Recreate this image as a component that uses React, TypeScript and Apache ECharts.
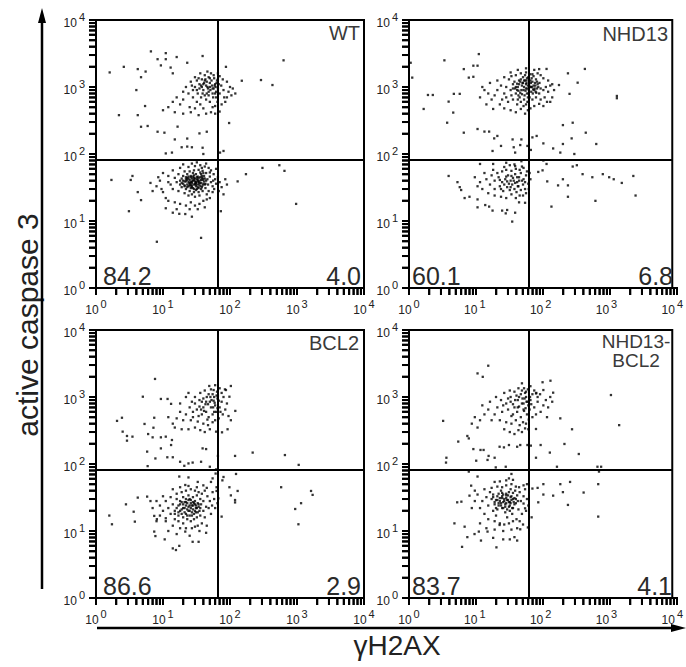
import React, { useEffect, useRef } from 'react';
import * as echarts from 'echarts';

// ---------- data ----------
const PANEL_NAMES = ['WT', 'NHD13', 'BCL2', 'NHD13-\nBCL2'];
const LOWER_LEFT_PCT = ['84.2', '60.1', '86.6', '83.7'];
const LOWER_RIGHT_PCT = ['4.0', '6.8', '2.9', '4.1'];
const GATE_X = 65;
const GATE_Y = 82;
const AXIS_MIN = 1;
const AXIS_MAX = 10000;
const TICK_VALUES = [
  1, 2, 3, 4, 5, 6, 7, 8, 9,
  10, 20, 30, 40, 50, 60, 70, 80, 90,
  100, 200, 300, 400, 500, 600, 700, 800, 900,
  1000, 2000, 3000, 4000, 5000, 6000, 7000, 8000, 9000, 10000,
];
const X_TITLE = 'γH2AX';
const Y_TITLE = 'active caspase 3';

const WT_SPARSE = [
  [6.6, 3400], [11, 3200], [16, 2800], [39, 2900], [8.3, 2600], [11, 2600], [23, 2300], [2.6, 2000],
  [4.2, 1850], [5.5, 1700], [1.6, 1650], [9.3, 2100], [13, 1950], [4.7, 1400], [14, 1600], [87, 2000],
  [630, 2500], [290, 1270], [430, 1070], [150, 1240], [4, 900], [5.4, 520], [2.2, 380], [4.2, 380],
  [4.7, 255], [5.9, 262], [8.3, 215], [10.5, 208], [16.5, 256], [15, 165], [23, 170], [35, 203],
  [45, 215], [97, 290], [19, 126], [23, 129], [27, 126], [39, 124], [11, 102], [13.6, 105], [71, 105],
  [80, 111], [40, 100], [305, 62], [545, 68], [650, 56], [173, 50], [130, 39], [1.7, 41], [3.3, 41],
  [3.5, 47], [4.2, 27], [4.7, 20.5], [3.1, 14], [8.1, 4.9], [37, 5.6], [970, 18], [73, 14], [27, 11.6],
  [21.5, 12.7], [17.5, 12.8], [14, 13.3], [11, 15.5],
];
const WT_UPPER = [
  [30, 1000], [35, 1100], [40, 900], [45, 1200], [50, 1000], [55, 800], [60, 1100], [38, 1300],
  [42, 1500], [48, 1400], [52, 1600], [33, 800], [37, 700], [44, 650], [50, 600], [56, 700], [62, 850],
  [28, 900], [26, 1200], [30, 1400], [36, 1600], [58, 1350], [64, 1250], [66, 950], [70, 800],
  [74, 1050], [80, 900], [90, 700], [95, 850], [100, 1000], [85, 600], [75, 550], [65, 600], [45, 800],
  [40, 1100], [53, 1250], [47, 950], [42, 750], [36, 550], [32, 600], [28, 700], [24, 800], [22, 1000],
  [20, 650], [18, 550], [25, 500], [30, 480], [40, 480], [55, 500], [60, 520], [70, 1450], [78, 1300],
  [66, 1600], [46, 1700], [32, 1250], [20, 850], [16, 700], [14, 600], [12, 500], [10, 450], [15, 420],
  [20, 400], [26, 420], [34, 380], [44, 400], [52, 420], [60, 400], [70, 430], [82, 700], [110, 950],
  [105, 750], [120, 800], [90, 1200], [38, 1000], [57, 950], [62, 700], [50, 1150], [44, 1050],
  [35, 950], [27, 1050], [54, 1050], [48, 850], [61, 1000], [43, 1300], [57, 1500], [34, 1350],
  [32, 900], [37, 1050], [41, 1150], [46, 1000], [51, 900], [59, 1050], [63, 1150], [68, 1100],
  [39, 800], [48, 750], [55, 950], [42, 1250], [50, 1350], [60, 800], [66, 1300],
];
const WT_LOWER = [
  [18, 40], [20, 36], [22, 42], [24, 38], [26, 34], [28, 40], [30, 36], [32, 42], [34, 38], [36, 33],
  [38, 44], [40, 36], [22, 30], [25, 28], [28, 31], [31, 29], [34, 27], [20, 47], [23, 50], [26, 45],
  [29, 48], [33, 46], [37, 50], [41, 47], [44, 40], [47, 35], [19, 32], [16, 38], [15, 44], [17, 28],
  [21, 26], [24, 24], [27, 25], [30, 23], [35, 24], [39, 28], [43, 31], [46, 42], [50, 46], [52, 38],
  [55, 33], [48, 28], [45, 25], [13, 35], [14, 30], [25, 55], [29, 57], [34, 58], [39, 56], [21, 55],
  [17, 50], [31, 33], [27, 37], [23, 35], [35, 40], [29, 44], [25, 41], [33, 35], [37, 37], [42, 43],
  [19, 43], [26, 31], [32, 30], [38, 32], [24, 46], [28, 52], [36, 53], [40, 52], [44, 52], [31, 50],
  [22, 39], [27, 43], [33, 39], [26, 38], [30, 39], [29, 35], [24, 33], [36, 45], [20, 40], [41, 39],
  [9, 40], [8, 33], [10, 27], [11, 22], [12, 47], [10, 52], [8.5, 45], [12, 20], [15, 19], [18, 18],
  [22, 17], [26, 19], [30, 17], [35, 18], [40, 20], [45, 21], [50, 22], [55, 27], [58, 30], [60, 42],
  [57, 50], [52, 57], [48, 62], [42, 65], [36, 68], [30, 66], [24, 64], [18, 62], [14, 57], [20, 70],
  [27, 72], [32, 75], [44, 72], [62, 60], [66, 45], [70, 38], [75, 32], [80, 25], [68, 28], [85, 42],
  [90, 35], [7, 28], [6.5, 37], [16, 15], [25, 15], [33, 15], [42, 16], [38, 62], [50, 53], [56, 40],
  [12, 38], [62, 36], [9.5, 30], [27, 34], [31, 38], [21, 33], [25, 36], [29, 27], [34, 31], [23, 44],
  [39, 41], [18, 35], [43, 36],
  [19, 37], [21, 39], [23, 41], [25, 37], [27, 39], [29, 41], [31, 37], [33, 41], [35, 37], [37, 41],
  [21, 34], [23, 32], [25, 34], [27, 32], [29, 30], [31, 35], [33, 32], [35, 35], [37, 30], [39, 34],
  [22, 45], [24, 43], [26, 47], [28, 46], [30, 43], [32, 45], [34, 44], [38, 47], [40, 43], [42, 35],
];

const NHD13_SPARSE = [
  [1.06, 2300], [1.12, 1380], [3.45, 2500], [11.5, 3100], [6.8, 1850], [9.5, 2080], [11, 2080],
  [8.1, 1380], [9.5, 1420], [1.94, 760], [2.3, 760], [1.67, 470], [4, 605], [4.8, 790], [5.9, 790],
  [4.7, 415], [3.8, 293], [6.8, 208], [11, 236], [14, 216], [16.5, 216], [19.7, 171], [22, 186],
  [37.5, 165], [51, 165], [63, 132], [75, 177], [87, 186], [39, 126], [41, 105], [25, 132], [18.6, 111],
  [49, 136], [71, 115], [123, 1860], [260, 1600], [470, 1860], [365, 1160], [190, 1070], [275, 790],
  [1440, 735], [1440, 680], [307, 293], [218, 270], [485, 208], [296, 171], [700, 141], [218, 141],
  [199, 105], [325, 100], [155, 121], [110, 144], [12, 71], [19, 71], [30, 74], [41, 66], [51, 78],
  [110, 80], [123, 71], [107, 57], [92, 54], [307, 65], [355, 68], [434, 50], [610, 45], [880, 50],
  [1100, 45], [1290, 42], [1710, 37], [2560, 47], [2770, 24], [680, 20], [260, 23], [260, 34], [218, 42],
  [184, 34], [146, 16.4], [126, 39], [4, 47], [5.45, 38], [5.9, 32], [6.2, 29], [7, 22], [8.3, 23],
  [11, 21], [11, 16], [14.4, 17.3], [16.5, 16.4], [18.6, 14.3], [26, 14.3], [29.5, 13], [31, 14.6],
  [41, 13.3], [37, 9.8], [47, 19], [58, 18.7],
];
const NHD13_UPPER = [
  [40, 1200], [45, 1000], [50, 1300], [55, 900], [60, 1100], [65, 1400], [70, 1000], [75, 1200],
  [80, 900], [90, 1100], [100, 950], [35, 900], [38, 1100], [42, 800], [48, 700], [53, 1150], [58, 1500],
  [62, 800], [68, 700], [72, 850], [78, 1050], [85, 1300], [95, 800], [110, 900], [120, 1000], [30, 1000],
  [33, 1300], [28, 800], [26, 650], [32, 600], [38, 650], [44, 550], [50, 600], [56, 650], [60, 550],
  [66, 600], [75, 650], [85, 700], [100, 650], [115, 700], [130, 850], [140, 1050], [130, 1250],
  [110, 1350], [100, 1500], [90, 1600], [75, 1550], [60, 1650], [50, 1600], [42, 1500], [36, 1450],
  [25, 1050], [22, 900], [20, 750], [18, 650], [24, 550], [28, 480], [35, 450], [42, 420], [50, 470],
  [58, 400], [64, 450], [70, 480], [80, 520], [95, 560], [110, 520], [125, 600], [150, 700], [160, 900],
  [150, 1100], [140, 600], [46, 880], [52, 1050], [57, 750], [63, 950], [67, 1200], [73, 1350],
  [82, 1150], [88, 950], [47, 1250], [41, 950], [36, 750], [54, 1400], [61, 1250], [69, 1550],
  [78, 1450], [86, 820], [92, 1000], [55, 520], [45, 650], [30, 700], [16, 800], [14, 900], [15, 550],
  [19, 470], [12, 700], [13, 1000], [17, 1150], [22, 1250], [28, 1400], [35, 1650], [45, 1800],
  [60, 1900], [80, 1800], [95, 1850], [64, 1050], [59, 880], [71, 1150], [56, 1250], [66, 800],
  [49, 820], [44, 1120], [77, 920], [83, 1050], [62, 1350],
  [42, 1000], [47, 1100], [51, 900], [56, 1000], [61, 1150], [66, 900], [71, 1000], [76, 800],
  [81, 950], [58, 1250], [52, 780], [64, 700], [44, 900], [49, 1200], [70, 1250], [84, 850], [96, 1150],
  [38, 950], [67, 1050], [54, 1150], [60, 950], [74, 1000], [88, 1200], [46, 750], [63, 600],
];
const NHD13_LOWER = [
  [20, 40], [23, 45], [26, 38], [29, 42], [32, 48], [35, 40], [38, 44], [41, 50], [44, 38], [47, 45],
  [50, 52], [55, 42], [60, 48], [17, 35], [20, 30], [24, 33], [27, 28], [31, 32], [34, 29], [37, 35],
  [40, 30], [43, 27], [46, 33], [50, 29], [54, 35], [58, 30], [15, 42], [18, 48], [22, 52], [26, 55],
  [30, 58], [36, 56], [42, 60], [48, 58], [55, 62], [28, 64], [34, 68], [40, 70], [12, 38], [13, 30],
  [16, 26], [20, 24], [25, 23], [30, 22], [36, 25], [42, 22], [48, 24], [54, 24], [60, 26], [65, 36],
  [62, 55], [52, 65], [45, 33], [39, 40], [33, 36], [28, 35], [24, 41], [30, 46], [36, 47], [44, 45],
  [25, 30], [35, 32], [52, 40], [58, 38], [10, 45], [11, 33], [14, 52], [19, 58], [66, 30], [70, 42],
  [68, 52], [41, 37], [31, 39], [47, 40],
];

const BCL2_SPARSE = [
  [7.6, 1860], [5, 1010], [9.3, 935], [11.7, 935], [13.2, 790], [2.06, 440], [2.44, 490], [2.5, 304],
  [2.9, 262], [3.5, 256], [2.9, 223], [5.3, 396], [7.4, 490], [7.2, 348], [6, 280], [7, 250], [9.3, 250],
  [11, 256], [13.6, 228], [13.2, 192], [9.3, 171], [5.8, 153], [7.7, 121], [5.9, 93], [11.6, 126],
  [14, 126], [20.8, 94], [18, 108], [24, 102], [27.7, 105], [37, 108], [50, 91], [39, 171], [44, 167],
  [66, 132], [119, 132], [218, 148], [660, 136], [1060, 97], [103, 1460], [87, 1270], [98, 1010],
  [120, 620], [103, 450], [92, 330], [76, 297], [49, 1460], [57, 1270], [62, 304],
  [1.58, 17], [1.73, 12.6], [2.8, 25], [3.65, 19.4], [3.8, 13.8], [4.2, 31.5], [5.8, 32.6], [6.5, 28],
  [7.4, 16.8], [8.1, 15], [11, 15.5], [7.4, 9.8], [7.7, 8.4], [10.6, 7.5], [14, 5.5], [15.6, 5.2],
  [17.5, 6], [27.7, 6.9], [34, 6.9], [44, 9.4], [30, 11.6], [21.5, 9.8], [75, 16.4], [67, 30.7],
  [63, 39.6], [63, 45], [77, 57], [80, 64], [98, 45], [103, 34], [119, 29], [119, 26.7], [130, 39.6],
  [123, 71], [580, 45], [1620, 39.6], [1710, 34.6], [1150, 26], [940, 21.3], [1050, 12.6], [17.5, 65],
  [24, 63], [21.5, 48.6], [33, 54], [52, 54], [55, 61], [61, 72], [62, 83],
];
const BCL2_UPPER = [
  [30, 800], [35, 900], [40, 700], [45, 1000], [50, 850], [55, 1100], [60, 750], [65, 950], [28, 600],
  [32, 650], [38, 550], [44, 600], [48, 500], [55, 550], [62, 600], [70, 700], [75, 850], [80, 1000],
  [25, 700], [22, 550], [20, 450], [26, 450], [33, 430], [40, 400], [47, 380], [55, 420], [60, 450],
  [68, 480], [78, 550], [85, 650], [90, 800], [95, 520], [18, 600], [16, 480], [14, 400], [12, 500],
  [15, 350], [19, 330], [24, 330], [30, 350], [36, 320], [42, 300], [50, 330], [30, 1000], [36, 1150],
  [42, 1250], [48, 1100], [52, 1300], [58, 1000], [64, 1200], [70, 1350], [75, 1150], [84, 1300],
  [38, 850], [43, 780], [52, 700], [57, 880], [27, 850], [22, 1000], [58, 600], [34, 520], [46, 460],
  [28, 500], [40, 950], [35, 720], [65, 680], [72, 600], [18, 800], [24, 1150], [60, 1500], [66, 1050],
  [41, 620], [47, 780], [53, 900], [59, 820], [63, 1050], [68, 880], [44, 850], [51, 1000], [37, 650],
  [56, 700],
];
const BCL2_LOWER = [
  [15, 20], [17, 24], [19, 18], [21, 22], [23, 26], [25, 20], [27, 24], [29, 18], [31, 22], [33, 26],
  [35, 20], [18, 28], [20, 32], [22, 30], [24, 34], [26, 29], [28, 32], [30, 28], [32, 34], [36, 30],
  [40, 28], [14, 25], [13, 18], [15, 15], [17, 14], [20, 13], [23, 15], [26, 14], [29, 15], [32, 16],
  [36, 17], [40, 20], [44, 23], [12, 22], [10, 20], [11, 28], [13, 32], [16, 36], [19, 38], [22, 40],
  [26, 42], [30, 40], [34, 38], [38, 36], [42, 40], [46, 33], [50, 28], [48, 22], [42, 16], [38, 13],
  [33, 12], [27, 11], [22, 11], [18, 11], [14, 12], [11, 14], [9, 17], [9, 24], [8, 28], [10, 33],
  [14, 42], [18, 45], [24, 47], [32, 45], [40, 48], [45, 44], [55, 38], [58, 30], [54, 24], [22, 18],
  [24, 23], [26, 26], [28, 21], [19, 21], [21, 27], [17, 19], [30, 25], [34, 23], [37, 25], [20, 16],
  [25, 17], [16, 30], [12, 10], [16, 9], [25, 8.5], [35, 10], [45, 12], [52, 18], [60, 22], [65, 26],
  [7, 22], [8, 14], [23, 21], [27, 19], [20, 25], [25, 30], [31, 19],
  [16, 22], [18, 20], [20, 22], [22, 24], [24, 20], [26, 22], [28, 24], [30, 20], [32, 22], [34, 25],
  [18, 25], [21, 19], [23, 17], [25, 24], [27, 17], [29, 26], [31, 24], [33, 19], [36, 22], [19, 27],
  [22, 27], [24, 29], [28, 27], [17, 17], [15, 18],
];

const NB_SPARSE = [
  [16, 2930], [11, 2250], [13.2, 2000], [3.3, 440], [5.6, 216], [7.7, 262], [8.1, 241], [9.5, 167],
  [10.5, 112], [3.7, 124], [3.65, 105], [15.6, 115], [16.2, 132], [20, 124], [12.2, 162], [13.6, 162],
  [20.8, 89], [29.5, 91], [23.8, 181], [27.7, 177], [33, 192], [44, 181], [49, 192], [63, 192],
  [71, 188], [85, 333], [85, 124], [100, 192], [138, 148], [177, 91], [230, 199], [300, 330], [380, 141],
  [199, 480], [1170, 1070], [1560, 380], [730, 91], [770, 77], [830, 91], [107, 1660], [141, 1750],
  [155, 1160], [110, 1270], [98, 1100], [85, 1130], [52, 1600], [56, 1350],
  [8.1, 77], [8.8, 47.5], [11, 65], [5.4, 26.8], [6.25, 27.4], [8.3, 33.7], [4.9, 13], [7, 11.6],
  [6.4, 5.8], [7.7, 8.1], [9.9, 9], [11.5, 9.8], [12.4, 7.2], [15.6, 9.8], [19, 7.9], [21.3, 5.7],
  [23.8, 12.3], [27, 7.5], [34, 7.5], [40, 8.1], [44, 7.2], [49, 10.6], [64, 11.3], [36, 71], [33, 61],
  [20, 54], [75, 43], [90, 44], [110, 50], [110, 35], [92, 26.8], [155, 33.7], [199, 50], [218, 38],
  [260, 24.5], [280, 54], [450, 37.5], [750, 50], [750, 16.4], [73, 16], [58, 21.8], [55, 25.7],
];
const NB_UPPER = [
  [25, 900], [30, 800], [35, 1000], [40, 700], [45, 900], [50, 1100], [55, 800], [60, 1000], [65, 750],
  [70, 900], [75, 1100], [22, 700], [26, 600], [32, 650], [38, 550], [44, 600], [50, 500], [56, 620],
  [62, 550], [68, 650], [80, 700], [90, 850], [20, 550], [18, 450], [24, 450], [30, 420], [36, 400],
  [42, 450], [48, 380], [54, 420], [60, 400], [66, 460], [75, 500], [85, 550], [100, 600], [110, 750],
  [120, 900], [16, 650], [14, 550], [12, 450], [13, 750], [17, 850], [21, 1000], [28, 1150], [34, 1250],
  [40, 1200], [46, 1350], [52, 1250], [58, 1150], [64, 1300], [70, 1450], [80, 1250], [90, 1000],
  [28, 330], [34, 300], [40, 280], [46, 320], [52, 300], [58, 340], [65, 330], [10, 500], [9, 400],
  [11, 350], [32, 950], [38, 780], [47, 720], [53, 950], [59, 680], [43, 1050], [27, 750], [36, 520],
  [61, 850], [72, 780], [86, 1150], [130, 700], [125, 500], [140, 1000], [150, 850],
  [41, 900], [47, 1000], [52, 800], [57, 950], [63, 850], [69, 1000], [45, 700], [55, 650], [35, 850],
  [60, 1200],
];
const NB_LOWER = [
  [18, 30], [20, 25], [22, 33], [24, 28], [26, 22], [28, 30], [30, 26], [32, 34], [34, 24], [36, 29],
  [38, 22], [40, 31], [16, 24], [15, 32], [17, 38], [19, 20], [21, 17], [23, 36], [25, 40], [27, 35],
  [29, 19], [31, 16], [33, 38], [35, 42], [37, 18], [42, 26], [44, 34], [46, 21], [48, 38], [50, 28],
  [52, 18], [55, 33], [58, 42], [13, 28], [12, 22], [11, 35], [14, 18], [16, 15], [20, 14], [24, 13],
  [28, 12.5], [33, 13], [38, 14], [43, 15], [48, 14], [26, 45], [30, 48], [36, 50], [42, 46], [22, 46],
  [18, 44], [14, 42], [10, 28], [9, 22], [10, 40], [62, 30], [65, 24], [60, 20], [54, 12.5], [44, 11],
  [36, 10.5], [27, 10], [20, 10.5], [15, 11], [12, 13], [25, 26], [27, 27], [29, 23], [31, 29], [33, 27],
  [23, 24], [35, 32], [39, 27], [21, 29], [19, 35], [45, 28], [41, 40], [47, 45], [62, 50], [55, 48],
  [30, 57], [24, 55], [38, 58], [26, 31], [34, 20], [30, 36], [22, 21],
  [20, 27], [22, 29], [24, 31], [26, 33], [28, 28], [30, 31], [32, 29], [34, 27], [36, 33], [38, 30],
  [23, 26], [25, 24], [27, 22], [29, 25], [31, 21], [33, 23], [35, 26], [37, 22], [40, 25], [42, 30],
  [19, 32], [21, 22], [26, 37], [30, 34], [38, 37],
];

const PANEL_POINTS = [
  [...WT_SPARSE, ...WT_UPPER, ...WT_LOWER],
  [...NHD13_SPARSE, ...NHD13_UPPER, ...NHD13_LOWER],
  [...BCL2_SPARSE, ...BCL2_UPPER, ...BCL2_LOWER],
  [...NB_SPARSE, ...NB_UPPER, ...NB_LOWER],
];

// ---------- layout ----------
const FONT = '"Liberation Sans", Arial, Helvetica, sans-serif';
const GRID_POS = [
  { left: 96, top: 20 },
  { left: 409, top: 20 },
  { left: 96, top: 330 },
  { left: 409, top: 330 },
];
const GRID_SIZE = 268;
const TICK_LEN = 7;

const labelRich = {
  b: { fontSize: 12, fontFamily: FONT, color: '#222', lineHeight: 18, verticalAlign: 'bottom' },
  s: { fontSize: 11, fontFamily: FONT, color: '#222', lineHeight: 18, verticalAlign: 'top', padding: [0, 0, 0, 2] },
};
const labelFormatter = (v: number) => `{b|10}{s|${Math.round(Math.log10(v))}}`;

// fraction of the log axis span for a tick value (same log10 mapping as the axes)
const logFrac = (v: number) =>
  (Math.log10(v) - Math.log10(AXIS_MIN)) / (Math.log10(AXIS_MAX) - Math.log10(AXIS_MIN));

export default function App() {
  const ref = useRef<HTMLDivElement>(null);
  useEffect(() => {
    if (!ref.current) return;
    const chart = echarts.init(ref.current, undefined, { renderer: 'svg' });

    const logAxis = {
      type: 'log', logBase: 10, min: AXIS_MIN, max: AXIS_MAX,
      axisLine: { show: false }, axisTick: { show: false }, splitLine: { show: false },
      minorTick: { show: false }, minorSplitLine: { show: false },
    };
    const grids = GRID_POS.map((g) => ({
      left: g.left, top: g.top, width: GRID_SIZE, height: GRID_SIZE,
      show: true, borderColor: '#000', borderWidth: 2, backgroundColor: 'transparent',
    }));
    const xAxes = GRID_POS.map((_, i) => ({
      ...logAxis, gridIndex: i,
      axisLabel: { formatter: labelFormatter, rich: labelRich, margin: 10, showMinLabel: true, showMaxLabel: true },
    }));
    const yAxes = GRID_POS.map((_, i) => ({
      ...logAxis, gridIndex: i,
      axisLabel: { formatter: labelFormatter, rich: labelRich, margin: 11, showMinLabel: true, showMaxLabel: true },
    }));
    const series = PANEL_POINTS.map((pts, i) => ({
      type: 'scatter', xAxisIndex: i, yAxisIndex: i, data: pts,
      symbol: 'rect', symbolSize: 2.3, itemStyle: { color: '#000' }, silent: true,
      markLine: {
        silent: true, symbol: ['none', 'none'], label: { show: false },
        lineStyle: { color: '#000', width: 2, type: 'solid' },
        data: [{ xAxis: GATE_X }, { yAxis: GATE_Y }],
      },
    }));

    const pctStyle = { fontSize: 25, fontFamily: FONT, fill: '#2a2a2a' };
    const nameStyle = { fontSize: 20, fontFamily: FONT, fill: '#3a3a3a' };
    const graphic: any[] = [];

    // outward log tick marks along each panel's axes: one comb polyline per axis
    GRID_POS.forEach((g) => {
      const bottom = g.top + GRID_SIZE;
      const xComb: number[][] = [];
      const yComb: number[][] = [];
      TICK_VALUES.forEach((v) => {
        const f = logFrac(v);
        const x = g.left + f * GRID_SIZE;
        const y = bottom - f * GRID_SIZE;
        xComb.push([x, bottom], [x, bottom + TICK_LEN], [x, bottom]);
        yComb.push([g.left, y], [g.left - TICK_LEN, y], [g.left, y]);
        graphic.push({ type: 'line', shape: { x1: x, y1: bottom, x2: x, y2: bottom + TICK_LEN }, style: { stroke: '#000', lineWidth: 2 } });
        graphic.push({ type: 'line', shape: { x1: g.left, y1: y, x2: g.left - TICK_LEN, y2: y }, style: { stroke: '#000', lineWidth: 2 } });
      });
      graphic.push({ type: 'polyline', shape: { points: xComb }, style: { stroke: '#000', lineWidth: 2, fill: null } });
      graphic.push({ type: 'polyline', shape: { points: yComb }, style: { stroke: '#000', lineWidth: 2, fill: null } });
    });

    const llPos = [[103, 276], [412, 276], [103, 586], [412, 586]];
    const lrPos = [[361, 276], [673, 276], [361, 586], [672, 586]];
    LOWER_LEFT_PCT.forEach((t, i) => {
      graphic.push({ type: 'text', x: llPos[i][0], y: llPos[i][1], style: { ...pctStyle, text: t, align: 'left', verticalAlign: 'middle' } });
    });
    LOWER_RIGHT_PCT.forEach((t, i) => {
      graphic.push({ type: 'text', x: lrPos[i][0], y: lrPos[i][1], style: { ...pctStyle, text: t, align: 'right', verticalAlign: 'middle' } });
    });
    graphic.push({ type: 'text', x: 360, y: 33, style: { ...nameStyle, text: PANEL_NAMES[0], align: 'right', verticalAlign: 'middle' } });
    graphic.push({ type: 'text', x: 668, y: 34, style: { ...nameStyle, text: PANEL_NAMES[1], align: 'right', verticalAlign: 'middle' } });
    graphic.push({ type: 'text', x: 359, y: 343, style: { ...nameStyle, text: PANEL_NAMES[2], align: 'right', verticalAlign: 'middle' } });
    graphic.push({ type: 'text', x: 636, y: 351, style: { ...nameStyle, fontSize: 19, text: PANEL_NAMES[3], lineHeight: 19, align: 'center', verticalAlign: 'middle' } });

    // axis titles and arrows
    graphic.push({ type: 'text', x: 27, y: 325, rotation: Math.PI / 2, style: { text: Y_TITLE, fontSize: 30, fontFamily: FONT, fill: '#222', align: 'center', verticalAlign: 'middle' } });
    graphic.push({ type: 'text', x: 397, y: 645, style: { text: X_TITLE, fontSize: 28, fontFamily: FONT, fill: '#222', align: 'center', verticalAlign: 'middle' } });
    graphic.push({ type: 'line', shape: { x1: 42, y1: 589, x2: 42, y2: 18 }, style: { stroke: '#000', lineWidth: 2.5 } });
    graphic.push({ type: 'polygon', shape: { points: [[42, 8], [38, 23], [46, 23]] }, style: { fill: '#000' } });
    graphic.push({ type: 'line', shape: { x1: 97, y1: 628, x2: 676, y2: 628 }, style: { stroke: '#000', lineWidth: 2.5 } });
    graphic.push({ type: 'polygon', shape: { points: [[686, 628], [671, 624], [671, 632]] }, style: { fill: '#000' } });

    chart.setOption({
      animation: false,
      backgroundColor: '#fff',
      grid: grids,
      xAxis: xAxes,
      yAxis: yAxes,
      series,
      graphic: { elements: graphic },
    });
    return () => chart.dispose();
  }, []);
  return <div ref={ref} style={{ position: 'absolute', left: 0, top: 0, width: 686, height: 667 }} />;
}
